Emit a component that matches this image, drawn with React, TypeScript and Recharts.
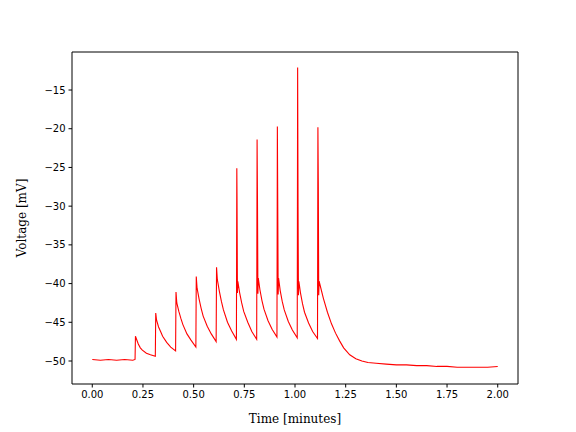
import { LineChart, Line, XAxis, YAxis, ReferenceLine } from 'recharts';

// time in minutes, voltage in mV
const TIMES: number[] = [
  0.0, 0.04, 0.08, 0.12, 0.16, 0.2, 0.211,
  // step 1
  0.213, 0.217, 0.227, 0.237, 0.247, 0.267, 0.287, 0.311,
  // step 2
  0.313, 0.317, 0.327, 0.337, 0.347, 0.367, 0.387, 0.411,
  // step 3
  0.413, 0.417, 0.427, 0.437, 0.447, 0.467, 0.487, 0.511,
  // step 4
  0.513, 0.517, 0.527, 0.537, 0.547, 0.567, 0.587, 0.611,
  // step 5
  0.613, 0.617, 0.627, 0.637, 0.647, 0.667, 0.687, 0.711,
  // step 6 with spike
  0.713, 0.714, 0.716, 0.718, 0.727, 0.737, 0.747, 0.767, 0.787, 0.811,
  // step 7 with spike
  0.813, 0.815, 0.817, 0.819, 0.827, 0.837, 0.847, 0.867, 0.887, 0.911,
  // step 8 with spike
  0.913, 0.915, 0.917, 0.919, 0.927, 0.937, 0.947, 0.967, 0.987, 1.011,
  // step 9 with spike
  1.013, 1.015, 1.017, 1.019, 1.027, 1.037, 1.047, 1.067, 1.087, 1.111,
  // step 10 with spike, then recovery
  1.113, 1.115, 1.117, 1.119, 1.14, 1.16, 1.18, 1.2, 1.22, 1.24, 1.27,
  1.3, 1.33, 1.36, 1.4, 1.45, 1.5, 1.55, 1.6, 1.65, 1.7, 1.75, 1.8,
  1.85, 1.9, 1.95, 2.0,
];

const VOLTAGE: number[] = [
  -49.8, -49.9, -49.8, -49.9, -49.8, -49.9, -49.8,
  -46.8, -47.1, -47.8, -48.3, -48.6, -49.0, -49.2, -49.4,
  -43.8, -44.7, -45.6, -46.2, -46.8, -47.6, -48.2, -48.7,
  -41.1, -42.5, -43.6, -44.5, -45.3, -46.5, -47.3, -48.2,
  -39.1, -40.6, -42.0, -43.2, -44.2, -45.5, -46.5, -47.5,
  -37.9, -39.5, -41.0, -42.3, -43.4, -45.0, -46.1, -47.2,
  -25.1, -29.0, -41.2, -39.7, -41.2, -42.5, -43.6, -45.0, -46.2, -47.2,
  -21.4, -29.8, -41.3, -39.3, -40.8, -42.2, -43.3, -44.8, -45.9, -46.9,
  -19.7, -30.5, -41.4, -39.3, -40.9, -42.3, -43.4, -44.9, -46.0, -47.0,
  -12.1, -30.0, -41.5, -39.7, -41.2, -42.6, -43.7, -45.1, -46.2, -47.1,
  -19.8, -27.5, -41.5, -39.7, -41.9, -43.7, -45.2, -46.4, -47.4, -48.3, -49.2,
  -49.7, -50.0, -50.2, -50.3, -50.4, -50.5, -50.5, -50.6, -50.6, -50.7, -50.7, -50.8,
  -50.8, -50.8, -50.8, -50.7,
];

const X_TICKS = [0, 0.25, 0.5, 0.75, 1.0, 1.25, 1.5, 1.75, 2.0];
const Y_TICKS = [-50, -45, -40, -35, -30, -25, -20, -15];
const X_DOMAIN: [number, number] = [-0.1, 2.1];
const Y_DOMAIN: [number, number] = [-52.97, -10.09];

const data = TIMES.map((t, i) => ({ t, v: VOLTAGE[i] }));

const tickStyle = { fontSize: 10, fill: '#000', fontFamily: 'DejaVu Sans, sans-serif' };
const labelFont = 'DejaVu Serif, serif';

export default function App() {
  return (
    <div style={{ position: 'absolute', left: 0, top: 0, width: 576, height: 432, background: '#fff' }}>
      <LineChart
        width={576}
        height={432}
        data={data}
        margin={{ top: 52, right: 58, bottom: 0, left: 0 }}
      >
        <XAxis
          dataKey="t"
          type="number"
          domain={X_DOMAIN}
          ticks={X_TICKS}
          tickFormatter={(v: number) => v.toFixed(2)}
          tick={tickStyle}
          tickSize={3.5}
          tickMargin={3}
          height={48}
          stroke="#000"
          allowDataOverflow
          label={{
            value: 'Time [minutes]',
            position: 'insideBottom',
            offset: 9,
            style: { fontSize: 12, fill: '#000', fontFamily: labelFont },
          }}
        />
        <YAxis
          type="number"
          domain={Y_DOMAIN}
          ticks={Y_TICKS}
          tickFormatter={(v: number) => String(v).replace('-', '\u2212')}
          tick={tickStyle}
          tickSize={3.5}
          tickMargin={3}
          width={72}
          stroke="#000"
          allowDataOverflow
          label={{
            value: 'Voltage [mV]',
            angle: -90,
            position: 'insideLeft',
            offset: 22,
            style: { fontSize: 12, fill: '#000', fontFamily: labelFont, textAnchor: 'middle' },
          }}
        />
        {/* top and right frame lines */}
        <ReferenceLine y={Y_DOMAIN[1]} stroke="#000" strokeWidth={1} />
        <ReferenceLine x={X_DOMAIN[1]} stroke="#000" strokeWidth={1} />
        <Line
          type="linear"
          dataKey="v"
          stroke="#ff0000"
          strokeWidth={1.1}
          dot={false}
          isAnimationActive={false}
        />
      </LineChart>
    </div>
  );
}
